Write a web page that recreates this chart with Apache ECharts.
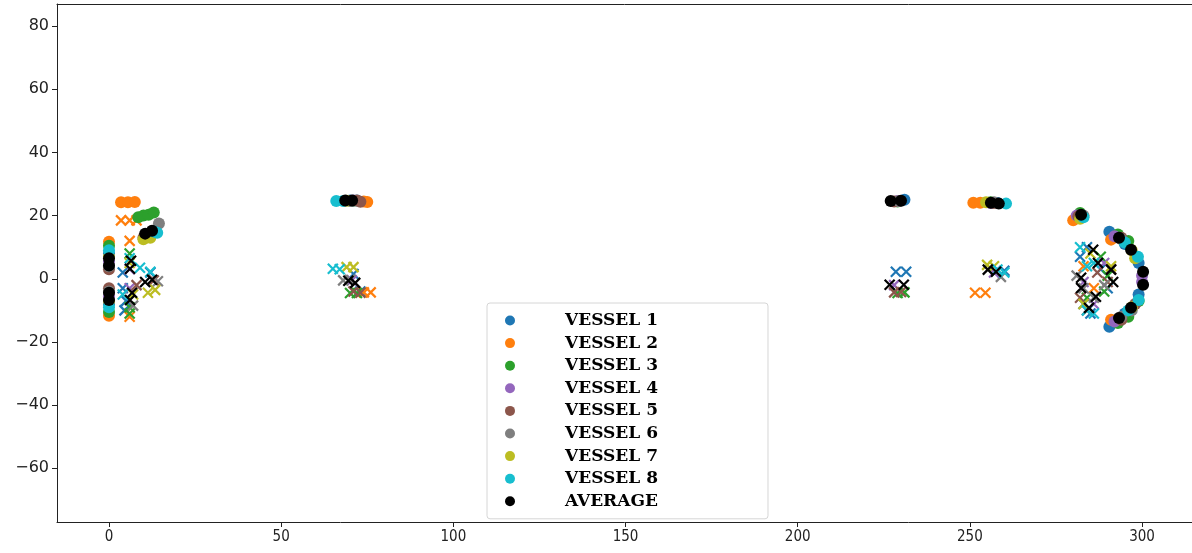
<!DOCTYPE html>
<html>
<head>
<meta charset="utf-8">
<script src="https://cdn.jsdelivr.net/npm/echarts@6/dist/echarts.min.js"></script>
<style>
  html, body { margin: 0; padding: 0; background: #fff; }
  #chart { width: 1192px; height: 553px; }
</style>
</head>
<body>
<div id="chart"></div>
<script>
// Series names and colours
const names = ['VESSEL 1', 'VESSEL 2', 'VESSEL 3', 'VESSEL 4', 'VESSEL 5', 'VESSEL 6', 'VESSEL 7', 'VESSEL 8', 'AVERAGE'];
const colors = ['#1f77b4', '#ff7f0e', '#2ca02c', '#9467bd', '#8c564b', '#7f7f7f', '#bcbd22', '#17becf', '#000000'];

// Measured points (circles) per vessel: [x, y]
const v1Points = [[0, 8], [0, -8], [70, 24.8], [72, 24.8], [231, 25], [258, 24], [281, 19.5], [290.5, 14.9], [295, 11], [299, 5], [299, -5], [295, -11], [290.5, -15.2]];
const v2Points = [[0, 11.7], [0, -11.7], [3.5, 24.2], [5.5, 24.2], [7.5, 24.3], [74, 24.5], [75, 24.3], [251, 24.1], [253, 24.1], [280, 18.5], [291, 12.4], [291, -13], [293.5, -12.5]];
const v3Points = [[0, 10.5], [0, -10.5], [8.5, 19.5], [10, 20], [11.5, 20.3], [13, 21], [71, 24.7], [229, 24.5], [256, 24.2], [282, 20.8], [293, 14], [296, 12], [293, -14], [296, -12], [299, -7]];
const v4Points = [[0, 5.5], [0, -5.5], [71, 24.8], [229, 24.6], [256, 24], [281, 20], [292, 13.5], [292, -13.5], [300, 1], [300, -1]];
const v5Points = [[0, 3], [0, -3], [10, 13], [72, 24.8], [73, 24.4], [228, 24.5], [257, 24], [281.5, 19.8], [294, 13], [294, -13], [298, -8]];
const v6Points = [[0, 4], [0, -4], [14.5, 17.5], [70, 24.6], [229.5, 24.6], [257, 24.2], [283, 20], [294, 12.5], [294, -12], [297, -10]];
const v7Points = [[0, 7], [0, -7], [10, 12.5], [12, 13], [69, 24.7], [254.7, 24.2], [282, 19], [297, 9], [298, 6.5], [297, -9]];
const v8Points = [[0, 9], [0, -9], [14, 14.6], [13, 15], [66, 24.6], [68, 24.6], [260.5, 23.8], [283, 19.5], [295, 11.5], [298.8, 7], [299, -6.7], [296, -10]];
const avgPoints = [[0, 6.5], [0, 4.2], [0, -4.4], [0, -6.7], [10.5, 14.3], [12.5, 15.2], [68.6, 24.8], [70.6, 24.8], [227, 24.6], [230, 24.7], [256.1, 24.1], [258.4, 23.8], [282.3, 20.3], [293.3, 13], [296.8, 9.2], [300.3, 2.2], [300.3, -1.9], [296.8, -9.2], [293.3, -12.4]];

// Reference points (crosses) per vessel: [x, y]
const v1Crosses = [[5, -7], [4.5, -10], [4, 2], [4, -3], [12, 2], [71, 1.5], [73, -4], [228.5, 2.2], [231.5, 2.2], [260, 2.5], [282, 7], [284, 10], [283, -8], [285, -11], [288, 3], [290, -3]];
const v2Crosses = [[3.5, 18.5], [6, 18.5], [8, 18.5], [6, 12], [6, -12], [74, -4.3], [76, -4.3], [251.5, -4.4], [254.5, -4.4], [283, 4], [286, -3]];
const v3Crosses = [[6, 8], [6, -9], [6, -11], [70, -4.5], [72, -4.5], [229, -4.5], [231, -4.3], [288, 7], [289, -4], [284, -6], [290, 1]];
const v4Crosses = [[6, 3], [6, -3], [70.5, -0.5], [228, -2], [257, 2], [283, -1], [286, -8], [289, 5]];
const v5Crosses = [[8, -2], [13, -0.5], [71, -4], [73, -4.4], [228, -4.3], [230, -4.2], [282, -6], [284, -10], [290, -1], [287, 2], [291, 3]];
const v6Crosses = [[7, -8.5], [14.2, -0.8], [68, -0.5], [70, -0.3], [259, 0.6], [281, 1], [283, -3], [286, -6], [289, -2]];
const v7Crosses = [[6, 5], [7, -5], [11.3, -4.4], [13.4, -3.5], [69, 3.7], [71, 3.7], [255, 4.4], [257, 4], [285, 8], [283, -8], [291, 4]];
const v8Crosses = [[4, -5], [6, 6.5], [9, 3.5], [12, 2.2], [65, 3.2], [67, 3.0], [258, 2.9], [260, 2], [282, 10], [286, 5], [284, -10], [284, 4], [286, -11]];
const avgCrosses = [[6.4, 5.7], [6.1, 3.2], [6.7, -4.4], [6.1, -6.7], [10.5, -1], [12.5, -0.3], [69.5, -0.6], [71.5, -1.3], [226.7, -1.9], [230.8, -1.9], [255.2, 2.9], [257.6, 2.2], [285.8, 9.2], [287.2, 5], [291, 2.9], [291.6, -1], [282.3, 0.3], [282.3, -2.9], [286.6, -5.7], [284.6, -9.2]];

const pointSets = [v1Points, v2Points, v3Points, v4Points, v5Points, v6Points, v7Points, v8Points, avgPoints];
const crossSets = [v1Crosses, v2Crosses, v3Crosses, v4Crosses, v5Crosses, v6Crosses, v7Crosses, v8Crosses, avgCrosses];

// Axis ranges and tick spacing
const xRange = [-15.1, 314.5];
const yRange = [-77, 87];
const xStep = 50;
const yStep = 20;

const crossSymbol = 'path://M0,0L10,10M10,0L0,10';
const minus = v => String(v).replace('-', '\u2212');
const spine = { color: '#222', width: 1 };

const series = [];
names.forEach((name, i) => {
  series.push({
    name: name,
    type: 'scatter',
    xAxisIndex: 0,
    data: pointSets[i],
    symbol: 'circle',
    symbolSize: 12,
    itemStyle: { color: colors[i], opacity: 1 },
    emphasis: { disabled: true },
    z: 2 + i
  });
  series.push({
    name: name,
    type: 'scatter',
    xAxisIndex: 0,
    data: crossSets[i],
    symbol: crossSymbol,
    symbolSize: 10,
    itemStyle: { color: colors[i], borderColor: colors[i], borderWidth: 2.2, opacity: 1 },
    emphasis: { disabled: true },
    z: 2 + i
  });
});

const chart = echarts.init(document.getElementById('chart'), null, { renderer: 'canvas' });
chart.setOption({
  animation: false,
  backgroundColor: '#ffffff',
  grid: { left: 57, right: 0, top: 4, bottom: 31, show: false },
  xAxis: [{
    type: 'value',
    min: xRange[0], max: xRange[1],
    minInterval: xStep, maxInterval: xStep,
    splitLine: { show: false },
    axisLine: { show: true, onZero: false, lineStyle: spine },
    axisTick: { show: true, inside: false, length: 5, lineStyle: { color: '#222' } },
    axisLabel: {
      showMinLabel: false, showMaxLabel: false, margin: 8,
      color: '#222', fontSize: 15, fontFamily: '"DejaVu Sans Condensed", "Liberation Sans Narrow", "DejaVu Sans", sans-serif',
      formatter: minus
    }
  }, {
    // top spine of the plot frame
    type: 'value', position: 'top',
    min: xRange[0], max: xRange[1],
    splitLine: { show: false },
    axisLine: { show: true, onZero: false, lineStyle: spine },
    axisTick: { show: false },
    axisLabel: { show: false }
  }],
  yAxis: {
    type: 'value',
    min: yRange[0], max: yRange[1],
    minInterval: yStep, maxInterval: yStep,
    splitLine: { show: false },
    axisLine: { show: true, onZero: false, lineStyle: spine },
    axisTick: { show: true, inside: false, length: 5, lineStyle: { color: '#222' } },
    axisLabel: {
      showMinLabel: false, showMaxLabel: false, margin: 8,
      color: '#222', fontSize: 16, fontFamily: '"DejaVu Sans", sans-serif',
      formatter: minus
    }
  },
  legend: {
    orient: 'vertical',
    left: 487, top: 303,
    padding: [9, 110, 9, 18],
    itemWidth: 10, itemHeight: 10, itemGap: 5.6,
    backgroundColor: 'rgba(255,255,255,0.85)',
    borderColor: '#d6d6d6', borderWidth: 1, borderRadius: 3,
    data: names.map(n => ({ name: n, icon: 'circle' })),
    selectedMode: false,
    textStyle: {
      color: '#000', fontSize: 17, fontWeight: 'bold', lineHeight: 14,
      fontFamily: '"DejaVu Serif", "Liberation Serif", serif',
      padding: [0, 0, 0, 45]
    }
  },
  series: series
});
</script>
</body>
</html>
